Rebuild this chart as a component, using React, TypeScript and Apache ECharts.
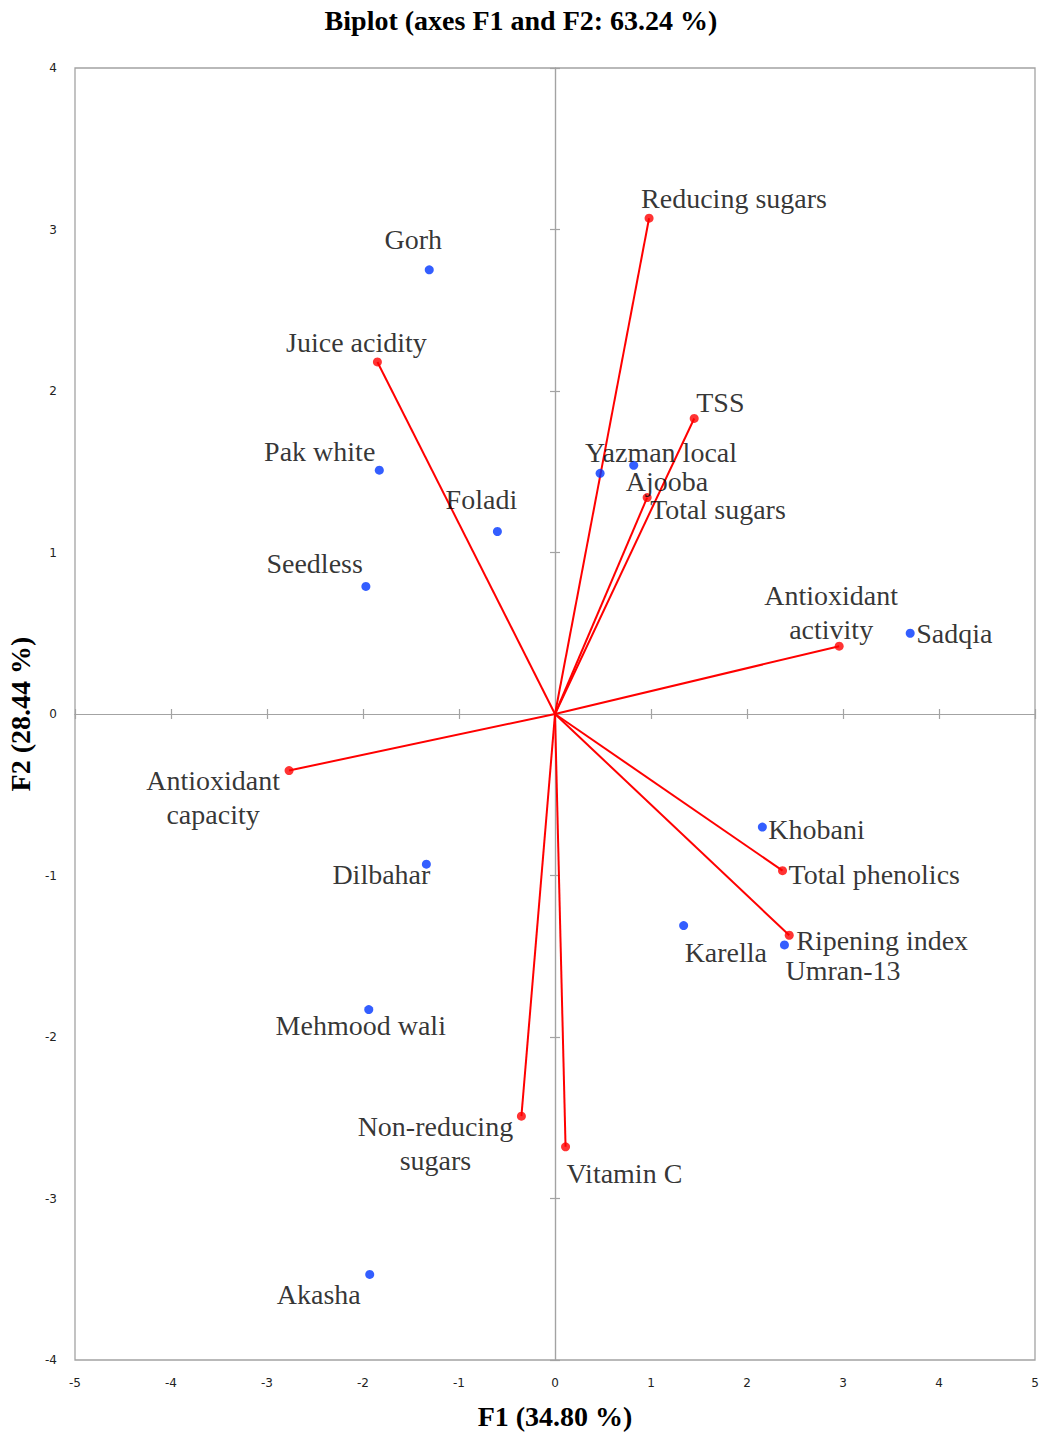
import React, { useEffect, useRef } from "react";
import * as echarts from "echarts";

// Observations (cultivars) — factor scores on F1 / F2
const observationNames = [
  "Gorh",
  "Pak white",
  "Foladi",
  "Seedless",
  "Yazman local",
  "Ajooba",
  "Sadqia",
  "Khobani",
  "Karella",
  "Umran-13",
  "Dilbahar",
  "Mehmood wali",
  "Akasha",
];
const observationF1 = [-1.31, -1.83, -0.6, -1.97, 0.47, 0.82, 3.7, 2.16, 1.34, 2.39, -1.34, -1.94, -1.93];
const observationF2 = [2.75, 1.51, 1.13, 0.79, 1.49, 1.54, 0.5, -0.7, -1.31, -1.43, -0.93, -1.83, -3.47];

// Variables — loadings on F1 / F2
const variableNames = [
  "Reducing sugars",
  "Juice acidity",
  "TSS",
  "Total sugars",
  "Antioxidant\nactivity",
  "Antioxidant\ncapacity",
  "Total phenolics",
  "Ripening index",
  "Non-reducing\nsugars",
  "Vitamin C",
];
const variableF1 = [0.98, -1.85, 1.45, 0.96, 2.96, -2.77, 2.37, 2.44, -0.35, 0.11];
const variableF2 = [3.07, 2.18, 1.83, 1.34, 0.42, -0.35, -0.97, -1.37, -2.49, -2.68];

// Axis ranges
const f1Range = [-5, 5];
const f2Range = [-4, 4];

const TITLE = "Biplot (axes F1 and F2: 63.24 %)";
const X_NAME = "F1 (34.80 %)";
const Y_NAME = "F2 (28.44 %)";

const GRAY = "#a3a3a3";
const RED = "#ff0000";
const BLUE = "#0036ff";
const SERIF = "'Liberation Serif', 'Times New Roman', serif";
const SANS = "'DejaVu Sans', Verdana, sans-serif";

// Label anchoring around each marker: [align, dx, dy]
const labelPlacement: Record<string, [string, number, number]> = {
  "Reducing sugars": ["left", -8, -20],
  Gorh: ["center", -16, -30],
  "Juice acidity": ["center", -21, -19],
  TSS: ["left", 2, -16],
  "Yazman local": ["left", -15, -21],
  "Pak white": ["right", -4, -19],
  Ajooba: ["left", -8, 16],
  Foladi: ["center", -16, -32],
  "Total sugars": ["left", 3, 12],
  Seedless: ["right", -3, -23],
  "Antioxidant\nactivity": ["center", -8, -34],
  Sadqia: ["left", 6, 0],
  "Antioxidant\ncapacity": ["center", -76, 27],
  Khobani: ["left", 6, 2],
  Dilbahar: ["right", 4, 10],
  "Total phenolics": ["left", 6, 4],
  Karella: ["left", 1, 27],
  "Ripening index": ["left", 7, 5],
  "Umran-13": ["left", 1, 26],
  "Mehmood wali": ["center", -8, 16],
  "Non-reducing\nsugars": ["center", -86, 27],
  "Vitamin C": ["left", 1, 27],
  Akasha: ["right", -9, 20],
};

function labelFor(name: string) {
  const [align, dx, dy] = labelPlacement[name] || ["left", 6, 0];
  return {
    show: true,
    position: "inside",
    formatter: "{b}",
    align,
    verticalAlign: "middle",
    offset: [dx, dy],
    fontFamily: SERIF,
    fontSize: 28,
    lineHeight: 34,
    color: "#000",
    textBorderWidth: 0,
    textBorderColor: "transparent",
  };
}

function zeroAxis(dim: "x" | "y", inside: boolean) {
  const range = dim === "x" ? f1Range : f2Range;
  return {
    type: "value",
    min: range[0],
    max: range[1],
    interval: 1,
    position: dim === "x" ? "bottom" : "left",
    axisLine: { show: true, onZero: true, onZeroAxisIndex: 0, lineStyle: { color: GRAY, width: 1.2 } },
    axisTick: { show: true, inside, length: 5, lineStyle: { color: GRAY, width: 1.2 } },
    axisLabel: { show: false },
    splitLine: { show: false },
  };
}

export default function App() {
  const ref = useRef<HTMLDivElement>(null);

  useEffect(() => {
    if (!ref.current) return;
    const chart = echarts.init(ref.current, undefined, { renderer: "svg" });

    const option = {
      animation: false,
      backgroundColor: "#fff",
      title: {
        text: TITLE,
        left: "center",
        top: 1,
        textStyle: { fontFamily: SERIF, fontWeight: "bold", fontSize: 28, color: "#000" },
      },
      grid: {
        left: 75,
        right: 7,
        top: 68,
        bottom: 73,
        containLabel: false,
        outerBoundsMode: "none",
        show: true,
        borderColor: GRAY,
        borderWidth: 1.3,
        backgroundColor: "transparent",
      },
      xAxis: [
        {
          type: "value",
          min: f1Range[0],
          max: f1Range[1],
          interval: 1,
          position: "bottom",
          axisLine: { show: false, onZero: false },
          axisTick: { show: false },
          splitLine: { show: false },
          axisLabel: { margin: 17, fontSize: 12, fontFamily: SANS, color: "#222" },
          name: X_NAME,
          nameLocation: "middle",
          nameGap: 42,
          nameTextStyle: { fontFamily: SERIF, fontWeight: "bold", fontSize: 28, color: "#000" },
        },
        zeroAxis("x", false),
        zeroAxis("x", true),
      ],
      yAxis: [
        {
          type: "value",
          min: f2Range[0],
          max: f2Range[1],
          interval: 1,
          position: "left",
          axisLine: { show: false, onZero: false },
          axisTick: { show: false },
          splitLine: { show: false },
          axisLabel: { margin: 18, fontSize: 12, fontFamily: SANS, color: "#222" },
          name: Y_NAME,
          nameLocation: "middle",
          nameGap: 36,
          nameTextStyle: { fontFamily: SERIF, fontWeight: "bold", fontSize: 28, color: "#000" },
        },
        zeroAxis("y", false),
        zeroAxis("y", true),
      ],
      series: [
        {
          type: "lines",
          coordinateSystem: "cartesian2d",
          xAxisIndex: 0,
          yAxisIndex: 0,
          silent: true,
          z: 3,
          symbol: "none",
          lineStyle: { color: RED, width: 2, opacity: 1 },
          data: variableNames.map((_, i) => ({
            coords: [
              [0, 0],
              [variableF1[i], variableF2[i]],
            ],
          })),
        },
        {
          type: "scatter",
          xAxisIndex: 0,
          yAxisIndex: 0,
          z: 4,
          symbol: "circle",
          symbolSize: 9,
          itemStyle: { color: RED },
          data: variableNames.map((n, i) => ({
            name: n,
            value: [variableF1[i], variableF2[i]],
            label: labelFor(n),
          })),
        },
        {
          type: "scatter",
          xAxisIndex: 0,
          yAxisIndex: 0,
          z: 5,
          symbol: "circle",
          symbolSize: 9,
          itemStyle: { color: BLUE },
          data: observationNames.map((n, i) => ({
            name: n,
            value: [observationF1[i], observationF2[i]],
            label: labelFor(n),
          })),
        },
      ],
    };

    chart.setOption(option as any);
    return () => chart.dispose();
  }, []);

  return (
    <div
      ref={ref}
      style={{ position: "absolute", left: 0, top: 0, width: 1042, height: 1433, background: "#fff" }}
    />
  );
}
